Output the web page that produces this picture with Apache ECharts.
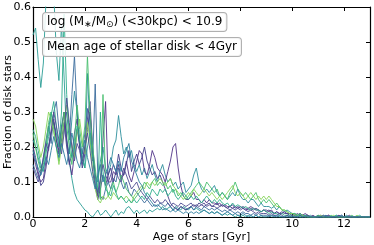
<!DOCTYPE html>
<html><head><meta charset="utf-8">
<script src="https://cdn.jsdelivr.net/npm/echarts@6/dist/echarts.min.js"></script>
<style>html,body{margin:0;padding:0;background:#fff}#c{width:374px;height:245px}</style>
</head><body><div id="c"></div>
<script>
// age grid (bin centres, Gyr), 0.1 Gyr steps from 0 to 13
const ages = [];
for (let i = 0; i <= 130; i++) ages.push(i / 10);

const xTicks = [0, 2, 4, 6, 8, 10, 12];
const yTicks = [0.0, 0.1, 0.2, 0.3, 0.4, 0.5, 0.6];

const fracTealHigh = [
 0.52,0.54,0.45,0.37,0.44,0.62,0.66,0.70,0.64,0.47,
 0.39,0.55,0.40,0.22,0.16,0.11,0.07,0.05,0.04,0.03,
 0.02,0.015,0.005,0.0,0.01,0.02,0.005,0.01,0.02,0.01,
 0.0,0.01,0.02,0.005,0.015,0.01,0.025,0.03,0.02,0.01,
 0.02,0.01,0.015,0.02,0.01,0.02,0.015,0.02,0.025,0.02,
 0.03,0.02,0.025,0.03,0.02,0.03,0.025,0.02,0.03,0.025,
 0.02,0.03,0.02,0.025,0.02,0.015,0.02,0.015,0.01,0.015,
 0.01,0.015,0.01,0.005,0.01,0.005,0.01,0.005,0.0,0.005,
 0.0,0.005,0.0,0.005,0.0,0.0,0.005,0.0,0.0,0.0,
 0.0,0.0,0.005,0.0,0.0,0.0,0.0,0.0,0.0,0.0,
 0.0,0.0,0.0,0.0,0.0,0.0,0.0,0.0,0.0,0.0,
 0.0,0.0,0.0,0.0,0.0,0.0,0.0,0.0,0.0,0.0,
 0.0,0.0,0.0,0.0,0.0,0.0,0.0,0.0,0.0,0.0,
 0.0];
const fracTeal = [
 0.22,0.20,0.17,0.14,0.16,0.20,0.25,0.30,0.27,0.24,
 0.20,0.26,0.30,0.22,0.18,0.28,0.36,0.30,0.20,0.17,
 0.14,0.41,0.25,0.18,0.12,0.10,0.16,0.20,0.14,0.12,
 0.15,0.20,0.22,0.29,0.23,0.18,0.20,0.17,0.19,0.15,
 0.13,0.15,0.12,0.14,0.11,0.13,0.15,0.12,0.10,0.13,
 0.15,0.12,0.10,0.11,0.09,0.10,0.08,0.09,0.10,0.07,
 0.08,0.09,0.12,0.14,0.10,0.08,0.07,0.08,0.07,0.08,
 0.09,0.07,0.06,0.07,0.06,0.05,0.06,0.07,0.06,0.08,
 0.06,0.05,0.05,0.04,0.05,0.05,0.04,0.03,0.04,0.03,
 0.03,0.03,0.025,0.03,0.02,0.03,0.02,0.015,0.02,0.015,
 0.01,0.01,0.005,0.01,0.005,0.005,0.0,0.005,0.0,0.0,
 0.005,0.0,0.0,0.005,0.0,0.0,0.0,0.005,0.0,0.0,
 0.0,0.005,0.0,0.0,0.0,0.0,0.0,0.0,0.0,0.0,
 0.0];
const fracPurple = [
 0.18,0.15,0.12,0.10,0.11,0.16,0.20,0.24,0.28,0.22,
 0.19,0.25,0.30,0.22,0.16,0.12,0.18,0.25,0.21,0.16,
 0.20,0.28,0.33,0.20,0.12,0.06,0.10,0.22,0.33,0.10,
 0.10,0.13,0.12,0.15,0.11,0.12,0.16,0.12,0.10,0.13,
 0.16,0.19,0.18,0.13,0.12,0.15,0.19,0.17,0.14,0.13,
 0.12,0.10,0.13,0.16,0.20,0.21,0.14,0.09,0.06,0.05,
 0.05,0.06,0.07,0.05,0.05,0.04,0.05,0.04,0.05,0.04,
 0.04,0.035,0.04,0.03,0.035,0.03,0.03,0.025,0.03,0.025,
 0.03,0.025,0.02,0.025,0.03,0.025,0.02,0.02,0.015,0.02,
 0.02,0.015,0.02,0.01,0.015,0.01,0.01,0.015,0.01,0.01,
 0.01,0.005,0.01,0.005,0.005,0.01,0.005,0.0,0.005,0.0,
 0.0,0.005,0.0,0.0,0.005,0.0,0.0,0.0,0.005,0.0,
 0.0,0.0,0.005,0.0,0.0,0.0,0.0,0.0,0.0,0.0,
 0.0];
const fracBlue = [
 0.15,0.13,0.11,0.12,0.17,0.22,0.26,0.21,0.30,0.33,
 0.25,0.20,0.26,0.30,0.22,0.35,0.46,0.30,0.22,0.18,
 0.24,0.31,0.22,0.16,0.38,0.12,0.06,0.05,0.08,0.10,
 0.08,0.11,0.10,0.14,0.10,0.08,0.10,0.07,0.06,0.08,
 0.07,0.06,0.05,0.04,0.05,0.04,0.03,0.035,0.03,0.04,
 0.035,0.03,0.04,0.03,0.02,0.025,0.02,0.03,0.025,0.02,
 0.025,0.03,0.02,0.03,0.025,0.02,0.03,0.025,0.02,0.025,
 0.02,0.025,0.02,0.015,0.02,0.015,0.02,0.015,0.01,0.015,
 0.01,0.015,0.01,0.01,0.005,0.01,0.005,0.01,0.005,0.005,
 0.005,0.0,0.005,0.005,0.0,0.005,0.0,0.0,0.005,0.0,
 0.0,0.005,0.0,0.0,0.0,0.005,0.0,0.0,0.0,0.0,
 0.0,0.0,0.0,0.005,0.0,0.0,0.0,0.0,0.0,0.0,
 0.0,0.0,0.0,0.0,0.0,0.0,0.0,0.0,0.0,0.0,
 0.0];
const fracIndigo = [
 0.20,0.17,0.13,0.09,0.10,0.14,0.20,0.24,0.27,0.22,
 0.18,0.22,0.27,0.20,0.15,0.18,0.24,0.28,0.20,0.14,
 0.18,0.25,0.30,0.18,0.09,0.05,0.08,0.12,0.09,0.12,
 0.14,0.10,0.13,0.18,0.14,0.12,0.15,0.19,0.13,0.16,
 0.18,0.15,0.17,0.20,0.16,0.14,0.12,0.13,0.11,0.12,
 0.10,0.08,0.06,0.04,0.03,0.025,0.02,0.03,0.025,0.02,
 0.025,0.03,0.035,0.03,0.04,0.035,0.03,0.035,0.04,0.03,
 0.035,0.04,0.03,0.035,0.03,0.025,0.03,0.035,0.025,0.03,
 0.025,0.03,0.025,0.02,0.025,0.02,0.025,0.02,0.015,0.02,
 0.015,0.02,0.015,0.01,0.015,0.01,0.015,0.01,0.01,0.005,
 0.01,0.005,0.005,0.01,0.005,0.0,0.005,0.0,0.0,0.0,
 0.005,0.0,0.0,0.0,0.005,0.0,0.0,0.0,0.0,0.005,
 0.0,0.0,0.0,0.0,0.0,0.0,0.0,0.0,0.0,0.0,
 0.0];
const fracGreen = [
 0.24,0.20,0.16,0.13,0.15,0.20,0.27,0.30,0.25,0.20,
 0.16,0.24,0.30,0.26,0.20,0.15,0.22,0.32,0.25,0.20,
 0.26,0.46,0.30,0.20,0.14,0.08,0.05,0.35,0.10,0.06,
 0.08,0.10,0.07,0.09,0.12,0.10,0.08,0.07,0.06,0.05,
 0.06,0.07,0.08,0.10,0.09,0.08,0.10,0.11,0.09,0.10,
 0.09,0.10,0.08,0.09,0.07,0.08,0.06,0.07,0.06,0.05,
 0.06,0.07,0.08,0.09,0.10,0.09,0.08,0.10,0.09,0.08,
 0.07,0.08,0.06,0.07,0.06,0.05,0.07,0.08,0.10,0.08,
 0.07,0.06,0.07,0.06,0.05,0.06,0.07,0.05,0.04,0.05,
 0.04,0.05,0.04,0.03,0.04,0.03,0.02,0.02,0.015,0.01,
 0.01,0.01,0.005,0.01,0.005,0.0,0.005,0.0,0.0,0.0,
 0.005,0.0,0.0,0.0,0.0,0.005,0.0,0.0,0.0,0.0,
 0.0,0.0,0.0,0.005,0.0,0.0,0.0,0.0,0.0,0.0,
 0.0];
const fracLime = [
 0.28,0.26,0.21,0.17,0.20,0.25,0.30,0.28,0.24,0.20,
 0.15,0.20,0.27,0.32,0.25,0.20,0.17,0.24,0.28,0.22,
 0.18,0.27,0.22,0.13,0.08,0.05,0.04,0.06,0.05,0.06,
 0.05,0.07,0.06,0.05,0.06,0.05,0.06,0.05,0.04,0.06,
 0.07,0.08,0.09,0.08,0.10,0.09,0.10,0.09,0.10,0.11,
 0.10,0.09,0.10,0.11,0.09,0.08,0.07,0.06,0.05,0.06,
 0.07,0.06,0.08,0.07,0.06,0.07,0.08,0.07,0.06,0.07,
 0.06,0.05,0.06,0.05,0.06,0.07,0.08,0.09,0.07,0.06,
 0.07,0.06,0.05,0.06,0.07,0.06,0.05,0.06,0.05,0.06,
 0.05,0.06,0.05,0.04,0.03,0.03,0.02,0.02,0.015,0.01,
 0.01,0.005,0.005,0.0,0.005,0.0,0.0,0.0,0.0,0.0,
 0.0,0.005,0.0,0.0,0.0,0.0,0.005,0.0,0.0,0.0,
 0.0,0.0,0.0,0.0,0.0,0.005,0.0,0.0,0.0,0.0,
 0.0];
const fracTealGreen = [
 0.25,0.23,0.19,0.15,0.13,0.18,0.23,0.29,0.33,0.26,
 0.20,0.30,0.58,0.35,0.24,0.17,0.20,0.26,0.22,0.17,
 0.14,0.20,0.24,0.17,0.11,0.07,0.30,0.13,0.08,0.07,
 0.06,0.09,0.07,0.05,0.06,0.05,0.04,0.05,0.04,0.05,
 0.04,0.05,0.06,0.05,0.07,0.06,0.08,0.07,0.06,0.08,
 0.07,0.08,0.06,0.07,0.08,0.06,0.05,0.06,0.07,0.06,
 0.05,0.06,0.05,0.06,0.05,0.04,0.05,0.06,0.05,0.04,
 0.05,0.04,0.05,0.04,0.035,0.04,0.03,0.04,0.03,0.035,
 0.03,0.025,0.03,0.025,0.02,0.025,0.02,0.02,0.015,0.02,
 0.015,0.01,0.015,0.01,0.01,0.005,0.01,0.005,0.005,0.005,
 0.005,0.0,0.005,0.0,0.0,0.005,0.0,0.0,0.0,0.0,
 0.0,0.0,0.005,0.0,0.0,0.0,0.0,0.005,0.0,0.0,
 0.0,0.0,0.0,0.0,0.0,0.0,0.005,0.0,0.0,0.0,
 0.0];
const fracViolet = [
 0.14,0.12,0.10,0.13,0.17,0.21,0.19,0.25,0.30,0.26,
 0.22,0.18,0.24,0.34,0.27,0.20,0.16,0.21,0.19,0.15,
 0.20,0.24,0.19,0.13,0.09,0.07,0.11,0.15,0.12,0.10,
 0.12,0.15,0.13,0.11,0.10,0.14,0.12,0.10,0.08,0.09,
 0.10,0.08,0.07,0.06,0.05,0.06,0.05,0.04,0.05,0.04,
 0.04,0.05,0.04,0.03,0.04,0.035,0.03,0.04,0.035,0.03,
 0.035,0.04,0.03,0.035,0.03,0.035,0.04,0.03,0.035,0.03,
 0.03,0.025,0.03,0.035,0.03,0.025,0.02,0.025,0.02,0.025,
 0.02,0.025,0.02,0.015,0.02,0.015,0.01,0.015,0.01,0.01,
 0.01,0.005,0.01,0.005,0.005,0.01,0.005,0.0,0.005,0.0,
 0.005,0.0,0.0,0.005,0.0,0.0,0.005,0.0,0.0,0.0,
 0.0,0.0,0.005,0.0,0.0,0.0,0.0,0.0,0.005,0.0,
 0.0,0.0,0.0,0.0,0.0,0.0,0.0,0.0,0.0,0.0,
 0.0];
const fracSteel = [
 0.19,0.16,0.14,0.12,0.14,0.17,0.15,0.19,0.23,0.20,
 0.17,0.21,0.18,0.15,0.19,0.24,0.20,0.16,0.14,0.18,
 0.22,0.17,0.14,0.11,0.08,0.12,0.15,0.10,0.12,0.14,
 0.17,0.15,0.13,0.16,0.13,0.17,0.19,0.21,0.16,0.14,
 0.12,0.10,0.09,0.07,0.06,0.05,0.04,0.03,0.035,0.03,
 0.02,0.025,0.02,0.015,0.02,0.015,0.02,0.015,0.01,0.015,
 0.01,0.015,0.01,0.015,0.01,0.015,0.02,0.015,0.01,0.015,
 0.01,0.015,0.01,0.005,0.01,0.015,0.01,0.005,0.01,0.005,
 0.005,0.01,0.005,0.0,0.005,0.0,0.005,0.0,0.005,0.0,
 0.0,0.005,0.0,0.0,0.005,0.0,0.0,0.0,0.0,0.0,
 0.0,0.0,0.0,0.005,0.0,0.0,0.0,0.0,0.0,0.0,
 0.0,0.0,0.0,0.0,0.0,0.0,0.0,0.0,0.0,0.005,
 0.0,0.0,0.0,0.0,0.0,0.0,0.0,0.0,0.0,0.0,
 0.0];

const seriesList = [
  {name: 'tealHigh', data: fracTealHigh, color: '#2b9d96'},
  {name: 'teal', data: fracTeal, color: '#2e8f9c'},
  {name: 'purple', data: fracPurple, color: '#513488'},
  {name: 'blue', data: fracBlue, color: '#3a6b9c'},
  {name: 'indigo', data: fracIndigo, color: '#433f8a'},
  {name: 'green', data: fracGreen, color: '#47bf6e'},
  {name: 'lime', data: fracLime, color: '#86d45a'},
  {name: 'tealGreen', data: fracTealGreen, color: '#2fae8c'},
  {name: 'violet', data: fracViolet, color: '#4f4c92'},
  {name: 'steel', data: fracSteel, color: '#2f7ea0'}
];

const FONT = 'DejaVu Sans';
const AX_FS = 11;
const chart = echarts.init(document.getElementById('c'), null, {renderer: 'canvas'});
const tickStyle = {show: true, inside: true, length: 4, lineStyle: {color: '#000', width: 1}};
const lineAx = {show: true, onZero: false, lineStyle: {color: '#000', width: 1.2}};
chart.setOption({
  animation: false,
  backgroundColor: '#fff',
  textStyle: {fontFamily: FONT},
  grid: {left: 33, right: 4, top: 7, bottom: 28, containLabel: false, outerBoundsMode: 'none'},
  xAxis: [{
    type: 'value', min: 0, max: 13, interval: 2,
    axisLine: lineAx, axisTick: tickStyle, splitLine: {show: false},
    axisLabel: {color: '#000', fontFamily: FONT, fontSize: AX_FS, margin: 2,
      formatter: v => xTicks.indexOf(v) >= 0 ? String(v) : ''},
    name: 'Age of stars [Gyr]', nameLocation: 'middle', nameGap: 15, nameMoveOverlap: false,
    nameTextStyle: {color: '#000', fontFamily: FONT, fontSize: AX_FS}
  }, {
    type: 'value', position: 'top', min: 0, max: 13, interval: 2,
    axisLine: lineAx, axisTick: tickStyle, axisLabel: {show: false}, splitLine: {show: false}
  }],
  yAxis: [{
    type: 'value', min: 0, max: 0.6, interval: 0.1,
    axisLine: lineAx, axisTick: tickStyle, splitLine: {show: false},
    axisLabel: {color: '#000', fontFamily: FONT, fontSize: AX_FS, margin: 2,
      formatter: v => yTicks.some(t => Math.abs(t - v) < 1e-9) ? v.toFixed(1) : ''},
    name: 'Fraction of disk stars', nameLocation: 'middle', nameGap: 19, nameMoveOverlap: false,
    nameTextStyle: {color: '#000', fontFamily: FONT, fontSize: AX_FS}
  }, {
    type: 'value', position: 'right', min: 0, max: 0.6, interval: 0.1,
    axisLine: lineAx, axisTick: tickStyle, axisLabel: {show: false}, splitLine: {show: false}
  }],
  series: seriesList.map(s => ({
    type: 'line', name: s.name, xAxisIndex: 0, yAxisIndex: 0,
    data: ages.map((a, i) => [a, s.data[i]]),
    showSymbol: false, symbol: 'none', clip: true,
    lineStyle: {color: s.color, width: 1, opacity: 0.9}
  })),
  graphic: [{
    type: 'text', left: 42, top: 12, z: 100,
    style: {
      text: 'log (M{s|∗}/M{s|⊙}) (<30kpc) < 10.9',
      fontFamily: FONT, fontSize: 12, fill: '#000',
      backgroundColor: 'rgba(255,255,255,0.85)', borderColor: '#b0b0b0', borderWidth: 1,
      borderRadius: 3, padding: [2, 4, 2, 4],
      rich: {s: {fontSize: 9, fontFamily: FONT, padding: [5, 0, 0, 0]}}
    }
  }, {
    type: 'text', left: 42, top: 37, z: 100,
    style: {
      text: 'Mean age of stellar disk < 4Gyr',
      fontFamily: FONT, fontSize: 12, fill: '#000',
      backgroundColor: 'rgba(255,255,255,0.85)', borderColor: '#b0b0b0', borderWidth: 1,
      borderRadius: 3, padding: [3, 4, 3, 4]
    }
  }]
});
</script></body></html>
